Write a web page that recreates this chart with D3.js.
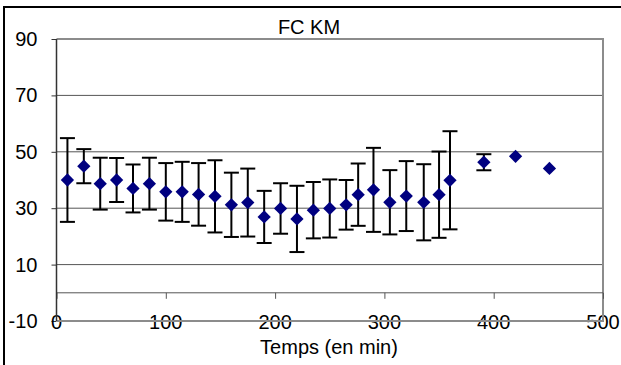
<!DOCTYPE html>
<html>
<head>
<meta charset="utf-8">
<script src="https://cdn.jsdelivr.net/npm/d3@7"></script>
<style>
  html, body { margin: 0; padding: 0; background: #fff; }
  svg { display: block; font-family: "Liberation Sans", Arial, sans-serif; }
</style>
</head>
<body>
<svg id="chart" width="621" height="365"></svg>
<script>
// Heart rate (FC) over time: mean with standard-deviation error bars
const times = [10, 25, 40, 55, 70, 85, 100, 115, 130, 145, 160, 175, 190, 205, 220, 235, 250, 265, 276, 290, 305, 320, 336, 350, 360, 391, 420, 451];
const means = [40.0, 44.9, 38.7, 40.0, 37.0, 38.7, 35.8, 35.8, 34.9, 34.2, 31.2, 32.0, 26.9, 29.9, 26.2, 29.3, 29.9, 31.2, 34.8, 36.5, 32.1, 34.3, 32.1, 34.8, 39.9, 46.3, 48.4, 44.1];
const sds   = [14.85, 6.05, 9.2, 7.8, 8.5, 9.2, 10.2, 10.65, 11.1, 12.8, 11.4, 12.05, 9.25, 8.95, 11.75, 10.0, 10.3, 8.8, 11.05, 14.9, 11.4, 12.4, 13.5, 15.3, 17.4, 2.85, null, null];

const xTicks = [0, 100, 200, 300, 400, 500];
const yTicks = [-10, 10, 30, 50, 70, 90];
const gridValues = [10, 30, 50, 70];

const title = "FC KM";
const xTitle = "Temps (en min)";

const svg = d3.select("#chart");

const plot = { left: 56.5, right: 603, top: 39, bottom: 321 };
const x = d3.scaleLinear().domain([0, 500]).range([plot.left, plot.right]);
const y = d3.scaleLinear().domain([-10, 90]).range([plot.bottom, plot.top]);

// outer chart frame
svg.append("rect")
  .attr("x", 4).attr("y", 7)
  .attr("width", 700).attr("height", 500)
  .attr("fill", "none").attr("stroke", "#000").attr("stroke-width", 2);

// horizontal gridlines
svg.append("g").selectAll("line").data(gridValues).join("line")
  .attr("x1", plot.left).attr("x2", plot.right)
  .attr("y1", d => y(d)).attr("y2", d => y(d))
  .attr("stroke", "#555").attr("stroke-width", 1);

// y axis with labels (plain hyphen for negatives)
const yAxis = d3.axisLeft(y).tickValues(yTicks).tickSize(5).tickPadding(14).tickFormat(d => String(d));
const gy = svg.append("g").attr("transform", `translate(${plot.left},0)`).call(yAxis);
gy.select(".domain").remove();
gy.selectAll(".tick line").attr("stroke", "#333");
gy.selectAll(".tick text").attr("font-size", 20).attr("fill", "#000")
  .attr("font-family", "Liberation Sans, Arial, sans-serif");

// x tick labels along the bottom edge
svg.append("g").selectAll("text").data(xTicks).join("text")
  .attr("x", d => x(d)).attr("y", plot.bottom + 8)
  .attr("text-anchor", "middle")
  .attr("font-size", 20).attr("fill", "#000")
  .text(d => d);

// plot area border (top, right, bottom)
svg.append("path")
  .attr("d", `M${plot.left},${plot.top}H${plot.right}V${plot.bottom}H${plot.left}`)
  .attr("fill", "none").attr("stroke", "#8c8c8c").attr("stroke-width", 2);

// x axis at zero with downward ticks
const xAxis = d3.axisBottom(x).tickValues(xTicks).tickSize(6).tickFormat("");
const gx = svg.append("g").attr("transform", `translate(0,${y(0)})`).call(xAxis);
gx.select(".domain").attr("stroke", "#555").attr("d", `M${plot.left},0H${plot.right}`);
gx.selectAll(".tick line").attr("stroke", "#555");

// y axis line
svg.append("line")
  .attr("x1", plot.left).attr("x2", plot.left).attr("y1", plot.top).attr("y2", plot.bottom)
  .attr("stroke", "#333").attr("stroke-width", 1.5);

// data
const data = times.map((t, i) => ({ t, m: means[i], sd: sds[i] }));

// error bars
const capHalf = 7.5;
const eb = svg.append("g").attr("stroke", "#000").attr("stroke-width", 2).attr("fill", "none");
data.filter(d => d.sd != null).forEach(d => {
  const cx = x(d.t), yHi = y(d.m + d.sd), yLo = y(d.m - d.sd);
  eb.append("line").attr("x1", cx).attr("x2", cx).attr("y1", yHi).attr("y2", yLo);
  eb.append("line").attr("x1", cx - capHalf).attr("x2", cx + capHalf).attr("y1", yHi).attr("y2", yHi);
  eb.append("line").attr("x1", cx - capHalf).attr("x2", cx + capHalf).attr("y1", yLo).attr("y2", yLo);
});

// diamond markers
const diamond = d3.symbol().type(d3.symbolSquare).size(88);
svg.append("g").selectAll("path").data(data).join("path")
  .attr("d", diamond)
  .attr("transform", d => `translate(${x(d.t)},${y(d.m)}) rotate(45)`)
  .attr("fill", "#000080");

// titles
svg.append("text")
  .attr("x", 309).attr("y", 34)
  .attr("text-anchor", "middle").attr("font-size", 20).attr("fill", "#000")
  .text(title);

svg.append("text")
  .attr("x", 329).attr("y", 354)
  .attr("text-anchor", "middle").attr("font-size", 20).attr("fill", "#000")
  .text(xTitle);
</script>
</body>
</html>
